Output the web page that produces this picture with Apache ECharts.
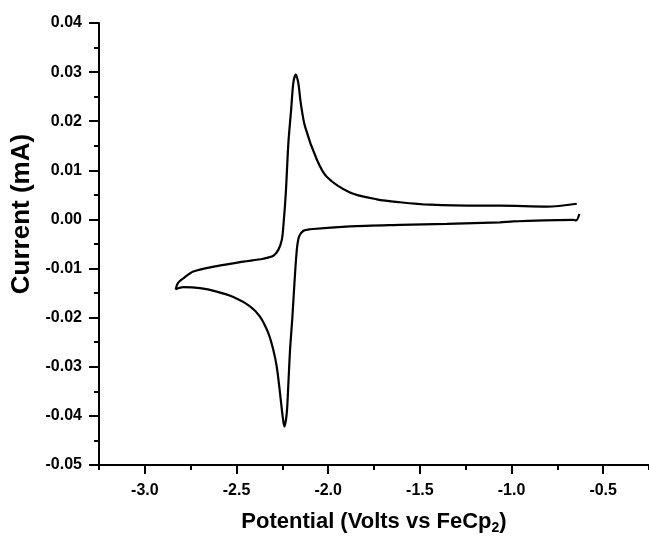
<!DOCTYPE html>
<html>
<head>
<meta charset="utf-8">
<script src="https://cdn.jsdelivr.net/npm/echarts@6/dist/echarts.min.js"></script>
<style>
html,body{margin:0;padding:0;background:#fff;}
#chart{width:649px;height:536px;}
</style>
</head>
<body>
<div id="chart"></div>
<script>
// Cyclic voltammogram: potential (V vs FeCp2) and current (mA), in scan order
const potential = [
  -0.630, -0.647, -0.662, -0.990, -1.062, -1.353, -1.608, -1.881, -2.099, -2.135,
  -2.159, -2.171, -2.184, -2.195, -2.208, -2.217, -2.226, -2.239, -2.248, -2.2625,
  -2.2805, -2.299, -2.326, -2.372, -2.426, -2.517, -2.608, -2.699, -2.790, -2.8315,
  -2.819, -2.790, -2.7355, -2.608, -2.463, -2.354, -2.299, -2.272, -2.253, -2.2445,
  -2.231, -2.217, -2.202, -2.190, -2.177, -2.163, -2.1495, -2.126, -2.062, -2.008,
  -1.881, -1.735, -1.608, -1.444, -1.171, -1.062, -0.807, -0.644
];
const current = [
  0.0011, -0.0002, -0.0001, -0.0004, -0.0006, -0.0009, -0.0011, -0.0014, -0.0020, -0.0023,
  -0.0035, -0.0062, -0.0130, -0.0198, -0.0266, -0.0334, -0.0395, -0.0422, -0.0402, -0.0354,
  -0.0300, -0.0266, -0.0232, -0.0198, -0.0177, -0.0158, -0.0147, -0.0140, -0.0138, -0.0142,
  -0.0129, -0.0120, -0.0106, -0.0095, -0.0086, -0.0080, -0.0074, -0.0062, -0.0042, -0.0014,
  0.0054, 0.0156, 0.0223, 0.0278, 0.0295, 0.0278, 0.0237, 0.0189, 0.0122, 0.0087,
  0.0055, 0.0041, 0.0035, 0.0030, 0.0028, 0.0028, 0.0026, 0.0032
];
const xTicks = [-3.0, -2.5, -2.0, -1.5, -1.0, -0.5];
const xMinorTicks = [-3.25, -2.75, -2.25, -1.75, -1.25, -0.75, -0.25];
const yTicks = [-0.05, -0.04, -0.03, -0.02, -0.01, 0.00, 0.01, 0.02, 0.03, 0.04];

const data = potential.map((v, i) => [v, current[i]]);
const FONT = '"Liberation Sans", Arial, sans-serif';
const X_MIN = -3.25, X_MAX = -0.25;

const chart = echarts.init(document.getElementById('chart'), null, {renderer: 'canvas'});
chart.setOption({
  backgroundColor: '#ffffff',
  animation: false,
  grid: {left: 99, right: 0, top: 23, bottom: 71, containLabel: false, outerBoundsMode: 'none'},
  xAxis: [{
    type: 'value',
    position: 'bottom',
    min: X_MIN,
    max: X_MAX,
    interval: 0.25,
    name: 'Potential (Volts vs FeCp{sub|2})',
    nameLocation: 'middle',
    nameGap: 44,
    nameTextStyle: {
      fontFamily: FONT, fontWeight: 'bold', fontSize: 22, color: '#000',
      rich: {sub: {fontFamily: FONT, fontWeight: 'bold', fontSize: 14, color: '#000', padding: [12, 0, 0, 0]}}
    },
    axisLine: {show: true, onZero: false, lineStyle: {color: '#000', width: 2}},
    axisTick: {show: true, inside: false, length: 9, customValues: xTicks, lineStyle: {color: '#000', width: 2}},
    minorTick: {show: false},
    splitLine: {show: false},
    axisLabel: {
      margin: 18, color: '#000', fontFamily: FONT, fontWeight: 'bold', fontSize: 16,
      customValues: xTicks,
      formatter: function (v) { return Number(v).toFixed(1); }
    }
  }, {
    type: 'value',
    position: 'bottom',
    min: X_MIN,
    max: X_MAX,
    interval: 0.25,
    axisLine: {show: false, onZero: false},
    axisTick: {show: true, inside: false, length: 5, customValues: xMinorTicks, lineStyle: {color: '#000', width: 2}},
    axisLabel: {show: false},
    splitLine: {show: false}
  }],
  yAxis: {
    type: 'value',
    min: -0.05,
    max: 0.04,
    interval: 0.01,
    name: 'Current (mA)',
    nameLocation: 'middle',
    nameGap: 55,
    nameRotate: 90,
    nameTextStyle: {fontFamily: FONT, fontWeight: 'bold', fontSize: 26, color: '#000', padding: [0, 0, 0, 60]},
    axisLine: {show: true, onZero: false, lineStyle: {color: '#000', width: 2}},
    axisTick: {show: true, inside: false, length: 10, lineStyle: {color: '#000', width: 2}},
    minorTick: {show: true, splitNumber: 2, length: 5, lineStyle: {color: '#000', width: 2}},
    splitLine: {show: false},
    axisLabel: {
      margin: 17, color: '#000', fontFamily: FONT, fontWeight: 'bold', fontSize: 16,
      formatter: function (v) {
        const hit = yTicks.find(t => Math.abs(t - v) < 1e-6);
        return hit === undefined ? '' : hit.toFixed(2);
      }
    }
  },
  series: [{
    type: 'line',
    xAxisIndex: 0,
    data: data,
    showSymbol: false,
    smooth: 0.3,
    lineStyle: {color: '#000', width: 2.2},
    clip: false
  }]
});
</script>
</body>
</html>
